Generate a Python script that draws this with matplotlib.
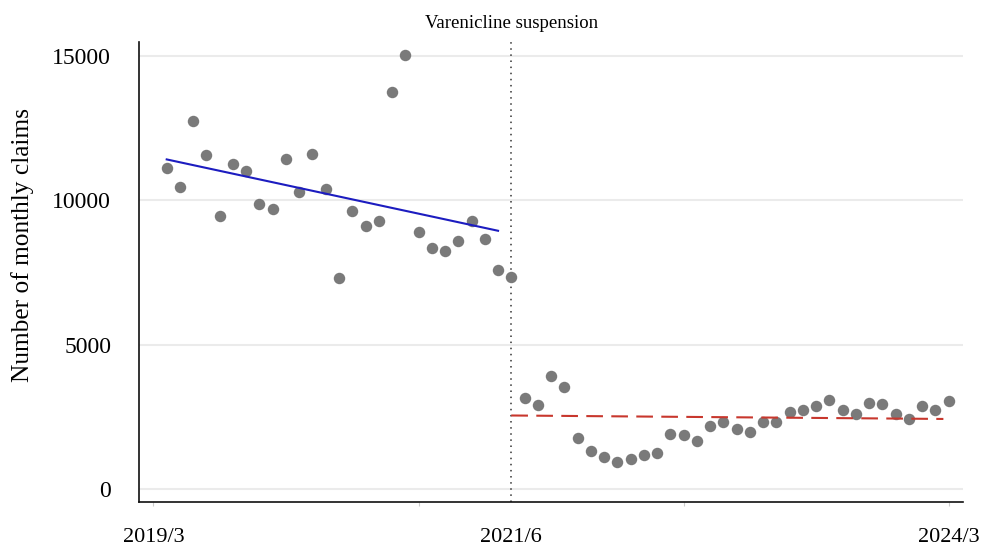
import matplotlib
matplotlib.use("Agg")
import matplotlib.pyplot as plt
import numpy as np

plt.rcParams["font.family"] = ["Liberation Serif", "DejaVu Serif"]

# month index: 0 = 2019/3, 1 = 2019/4, ... 60 = 2024/3
months_pre = np.arange(1, 28)
claims_pre = [11120, 10480, 12760, 11580, 9470, 11260, 11010, 9860, 9690,
              11450, 10280, 11620, 10410, 7300, 9630, 9100, 9280, 13760,
              15030, 8890, 8340, 8260, 8590, 9300, 8660, 7600, 7350]
months_post = np.arange(28, 61)
claims_post = [3170, 2930, 3930, 3550, 1780, 1330, 1120, 940, 1060, 1200,
               1270, 1930, 1870, 1660, 2180, 2320, 2070, 1980, 2330, 2330,
               2680, 2750, 2870, 3090, 2760, 2600, 2980, 2960, 2620, 2430,
               2880, 2760, 3070]

# trend segments (endpoints)
trend_pre_x = [1, 26]
trend_pre_y = [11420, 8950]
trend_post_x = [27, 59.6]
trend_post_y = [2555, 2435]

suspension_month = 27
tick_months = [0, 27, 60]
tick_labels = ["2019/3", "2021/6", "2024/3"]

fig = plt.figure(figsize=(9.82, 5.48), dpi=100)
ax = fig.add_axes([139/982, 1 - 502/548, 824/982, 460/548])

ax.set_xlim(-1.09, 61.08)
ax.set_ylim(-440, 15485)

ax.set_yticks([0, 5000, 10000, 15000])
ax.grid(axis="y", color="#ebebeb", linewidth=1.5)
ax.set_axisbelow(True)

ax.scatter(months_pre, claims_pre, s=68, color="#7a7a7a", zorder=3, linewidths=0)
ax.scatter(months_post, claims_post, s=68, color="#7a7a7a", zorder=3, linewidths=0)

ax.plot(trend_pre_x, trend_pre_y, color="#1c1cc0", linewidth=1.5, zorder=4)
ax.plot(trend_post_x, trend_post_y, color="#c8372d", linewidth=1.5,
        linestyle=(0, (8, 4)), zorder=4)

ax.axvline(suspension_month, color="#333333", linestyle=(0, (1, 3)),
           linewidth=1.1, zorder=2)
ax.text(suspension_month, 1.041, "Varenicline suspension",
        transform=ax.get_xaxis_transform(), ha="center", va="center", fontsize=13.5)

ax.set_xticks([0, 20, 40, 60])
ax.set_xticklabels([])
ax.tick_params(axis="x", length=3, color="#cccccc", width=0.8)
for m, lab in zip(tick_months, tick_labels):
    ax.text(m, -0.078, lab, transform=ax.get_xaxis_transform(),
            ha="center", va="center", fontsize=16)

ax.tick_params(axis="y", length=0, pad=20, labelsize=17)
for s in ["top", "right"]:
    ax.spines[s].set_visible(False)
for s in ["left", "bottom"]:
    ax.spines[s].set_color("#111111")
    ax.spines[s].set_linewidth(1.2)

fig.text(23/982, 1 - 245/548, "Number of monthly claims", rotation=90,
         ha="center", va="center", fontsize=18.3)

fig.savefig("out.png", dpi=100)
